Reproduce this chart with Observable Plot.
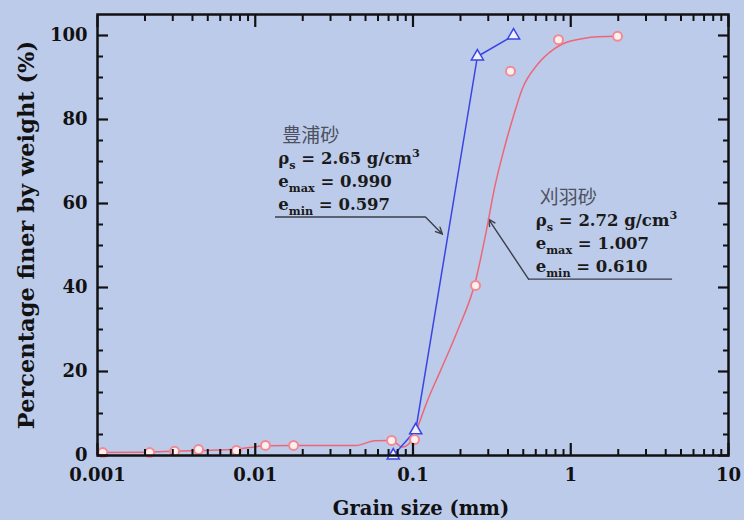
<!DOCTYPE html>
<html><head><meta charset="utf-8">
<script src="https://cdn.jsdelivr.net/npm/d3@7"></script>
<script src="https://cdn.jsdelivr.net/npm/@observablehq/plot@0.6"></script>
<style>
html,body{margin:0;padding:0;background:#bdcbea;}
</style></head><body><div id="chart"></div>
<script>
// ---- data ----
const xTicks = [0.001, 0.01, 0.1, 1, 10];
const xTickLabels = ["0.001", "0.01", "0.1", "1", "10"];
const yTicks = [0, 20, 40, 60, 80, 100];
const yTickLabels = ["0", "20", "40", "60", "80", "100"];

// Toyoura sand (blue)
const blueSize = [0.075, 0.104, 0.256, 0.434];
const bluePct  = [0, 6, 95, 100];

// Kariwa sand (red) measured points
const redSize = [0.00108, 0.00214, 0.00308, 0.00437, 0.0076, 0.0116, 0.0175, 0.0731, 0.1023, 0.249, 0.415, 0.836, 1.98];
const redPct  = [0.7, 0.7, 1.0, 1.4, 1.2, 2.4, 2.4, 3.6, 3.8, 40.5, 91.5, 99.0, 99.8];

// Kariwa sand (red) fitted curve
const redCurveSize = [0.001, 0.002, 0.003, 0.0044, 0.0076, 0.0116, 0.0175, 0.03, 0.0435, 0.057, 0.073, 0.086, 0.1007, 0.1068, 0.1236, 0.1494, 0.1915, 0.249, 0.290, 0.330, 0.375, 0.427, 0.494, 0.615, 0.778, 0.90, 1.2, 1.5, 1.98];
const redCurvePct  = [0.7, 0.8, 1.0, 1.2, 1.5, 2.3, 2.4, 2.4, 2.4, 3.5, 3.6, 2.0, 4.3, 6.7, 13.1, 20.2, 29.7, 41.5, 53.0, 64.0, 72.5, 80.0, 87.4, 93.1, 96.7, 98.1, 99.3, 99.7, 99.8];

// annotations
const annoNames = ["豊浦砂", "刈羽砂"];
const annoRho   = ["2.65", "2.72"];
const annoEmax  = ["0.990", "1.007"];
const annoEmin  = ["0.597", "0.610"];
const annoX     = [0.0140, 0.60];
const annoY     = [76.0, 61.3];   // first line of each block
const annoStep  = 5.45;           // line spacing in percent units
// leader lines: horizontal underline then arrow to the curve
const leadX1 = [0.01344, 4.42];
const leadX2 = [0.12, 0.54];
const leadY  = [56.8, 42.0];
const arrowX = [0.1538, 0.301];
const arrowY = [52.7, 56.3];

// ---- build ----
const blue = blueSize.map((d, i) => ({size: d, pct: bluePct[i]}));
const red = redSize.map((d, i) => ({size: d, pct: redPct[i]}));
const redCurve = redCurveSize.map((d, i) => ({size: d, pct: redCurvePct[i]}));

const annoLines = [];
annoNames.forEach((n, i) => {
  annoLines.push({x: annoX[i], y: annoY[i], t: n, cjk: true});
  annoLines.push({x: annoX[i], y: annoY[i] - annoStep, t: `ρ_s = ${annoRho[i]} g/cm^3`, cjk: false});
  annoLines.push({x: annoX[i], y: annoY[i] - 2 * annoStep, t: `e_max = ${annoEmax[i]}`, cjk: false});
  annoLines.push({x: annoX[i], y: annoY[i] - 3 * annoStep, t: `e_min = ${annoEmin[i]}`, cjk: false});
});
const leaders = leadX1.map((x, i) => ({x1: x, x2: leadX2[i], y: leadY[i], ax: arrowX[i], ay: arrowY[i]}));
const xLab = xTicks.map((d, i) => ({v: d, t: xTickLabels[i]}));
const yLab = yTicks.map((d, i) => ({v: d, t: yTickLabels[i]}));

const minorX = [];
for (let e = -3; e < 1; e++) for (let m = 2; m <= 9; m++) minorX.push(m * Math.pow(10, e));
const minorY = d3.range(0, 105, 5).filter(v => v % 20 !== 0);

const serif = "DejaVu Serif, serif";
const blueC = "#3a44e4";
const redC = "#ee6676";

const chart = Plot.plot({
  width: 744,
  height: 520,
  marginLeft: 97,
  marginRight: 16,
  marginTop: 14,
  marginBottom: 65,
  style: {background: "#bdcbea", fontFamily: serif, color: "#111"},
  x: {type: "log", domain: [0.001, 10], axis: null},
  y: {domain: [0, 105], axis: null},
  marks: [
    // leaders
    Plot.ruleY(leaders, {x1: "x1", x2: "x2", y: "y", stroke: "#3a3f4a", strokeWidth: 1.4}),
    Plot.arrow(leaders, {x1: "x2", y1: "y", x2: "ax", y2: "ay", stroke: "#3a3f4a", strokeWidth: 1.4, headLength: 8, headAngle: 50}),
    // curves
    Plot.line(redCurve, {x: "size", y: "pct", stroke: redC, strokeWidth: 1.5, curve: "monotone-x"}),
    Plot.line(blue, {x: "size", y: "pct", stroke: blueC, strokeWidth: 1.5}),
    Plot.dot(blue, {x: "size", y: "pct", symbol: "triangle", r: 4.5, fill: "#eef0ff", stroke: blueC, strokeWidth: 1.5}),
    Plot.dot(red, {x: "size", y: "pct", symbol: "circle", r: 4.5, fill: "#fff0f0", stroke: "#f08a95", strokeWidth: 2}),
    // annotation text
    Plot.text(annoLines.filter(d => d.cjk), {x: "x", y: "y", text: "t", textAnchor: "start", dx: 4, fontSize: 19, fill: "#4c5060", fontFamily: "Noto Sans CJK JP"}),
    Plot.text(annoLines.filter(d => !d.cjk), {x: "x", y: "y", text: "t", textAnchor: "start", fontSize: 16.5, fontWeight: "bold", fill: "#1a1a1a", fontFamily: serif}),
    // frame
    Plot.frame({stroke: "#111", strokeWidth: 2.5}),
    // tick marks (inward)
    Plot.axisX(xTicks, {anchor: "bottom", tickSize: -12, text: null, strokeWidth: 2.2, label: null}),
    Plot.axisX(minorX, {anchor: "bottom", tickSize: -6, text: null, strokeWidth: 2, label: null}),
    Plot.axisX(xTicks, {anchor: "top", tickSize: -12, text: null, strokeWidth: 2.2, label: null}),
    Plot.axisX(minorX, {anchor: "top", tickSize: -6, text: null, strokeWidth: 2, label: null}),
    Plot.axisY(yTicks, {anchor: "left", tickSize: -11, text: null, strokeWidth: 2.2, label: null}),
    Plot.axisY(minorY, {anchor: "left", tickSize: -6, text: null, strokeWidth: 2, label: null}),
    Plot.axisY(yTicks, {anchor: "right", tickSize: -11, text: null, strokeWidth: 2.2, label: null}),
    Plot.axisY(minorY, {anchor: "right", tickSize: -6, text: null, strokeWidth: 2, label: null}),
    // tick labels
    Plot.text(xLab, {x: "v", text: "t", frameAnchor: "bottom", dy: 20, lineAnchor: "middle", textAnchor: "middle", fontSize: 18, fontWeight: "bold", fill: "#111"}),
    Plot.text(yLab, {y: "v", text: "t", frameAnchor: "left", dx: -10, textAnchor: "end", lineAnchor: "middle", fontSize: 18, fontWeight: "bold", fill: "#111"}),
    // axis titles
    Plot.text(["Grain size (mm)"], {frameAnchor: "bottom", dy: 53, dx: 8, lineAnchor: "middle", textAnchor: "middle", fontSize: 19.5, fontWeight: "bold", fill: "#111"}),
    Plot.text(["Percentage finer by weight (%)"], {frameAnchor: "left", rotate: -90, dx: -71, dy: 0, textAnchor: "middle", lineAnchor: "middle", fontSize: 22.5, fontWeight: "bold", fill: "#111"})
  ]
});

// sub/superscripts in annotation text
chart.querySelectorAll("text").forEach(t => {
  const s = t.textContent;
  if (!/[_^]/.test(s) || t.querySelector("tspan")) return;
  const parts = s.split(/([_^][A-Za-z0-9]+)/).filter(p => p);
  t.textContent = "";
  let shift = 0;
  for (const p of parts) {
    const ts = document.createElementNS("http://www.w3.org/2000/svg", "tspan");
    let target = 0, txt = p;
    if (p[0] === "_") { target = 5; txt = p.slice(1); ts.setAttribute("font-size", "0.68em"); }
    else if (p[0] === "^") { target = -7; txt = p.slice(1); ts.setAttribute("font-size", "0.68em"); }
    ts.setAttribute("dy", String(target - shift));
    shift = target;
    ts.textContent = txt;
    t.appendChild(ts);
  }
});

document.getElementById("chart").appendChild(chart);
</script>
</body></html>
